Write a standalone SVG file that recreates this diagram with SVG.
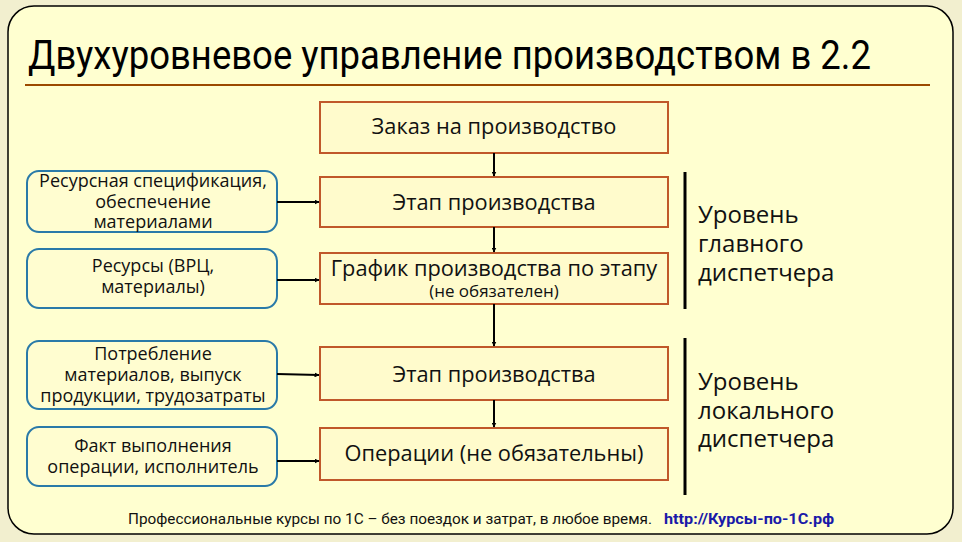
<svg xmlns="http://www.w3.org/2000/svg" width="962" height="542" viewBox="0 0 962 542">
<defs>
<marker id="ah" viewBox="0 0 10 10" refX="9" refY="5" markerWidth="5" markerHeight="5" orient="auto" markerUnits="userSpaceOnUse"><path d="M0,0 L10,5 L0,10 z" fill="#000"/></marker>
</defs>
<style>
.main rect{fill:#fffbcc;stroke:#c0582a;stroke-width:2}
.side rect{fill:#fffdd0;stroke:#2a7aa8;stroke-width:2}
.t{font-family:"Open Sans","Noto Sans","DejaVu Sans",sans-serif;fill:#111;text-anchor:middle}
.mt{font-size:21.8px}
.st{font-size:18px}
.lvl{font-family:"Open Sans","Noto Sans",sans-serif;font-size:24px;fill:#111}
.conn line{stroke:#000;stroke-width:2;marker-end:url(#ah)}
.bar{stroke:#000;stroke-width:3}
</style>
<rect x="0" y="0" width="962" height="542" fill="#f2efcf"/>
<rect x="8" y="6" width="945" height="528" rx="26" ry="26" fill="#ffffd0" stroke="#000" stroke-width="1.5"/>
<g id="title">
<text x="28" y="69" font-family="Roboto,'Liberation Sans',sans-serif" font-size="41" textLength="843" lengthAdjust="spacingAndGlyphs" fill="#000">Двухуровневое управление производством в 2.2</text>
<line x1="25" y1="85" x2="930" y2="85" stroke="#9c4a00" stroke-width="2"/>
</g>
<g id="order" class="main"><rect x="320" y="102" width="348" height="51"/><text class="t mt" x="494" y="134">Заказ на производство</text></g>
<g id="stage1" class="main"><rect x="320" y="177" width="348" height="50"/><text class="t mt" x="494" y="210">Этап производства</text></g>
<g id="schedule" class="main"><rect x="320" y="253" width="348" height="51"/><text class="t mt" x="494" y="276">График производства по этапу</text><text class="t" font-size="17" x="494" y="297">(не обязателен)</text></g>
<g id="stage2" class="main"><rect x="320" y="347" width="348" height="53"/><text class="t mt" x="494" y="382">Этап производства</text></g>
<g id="operations" class="main"><rect x="320" y="428" width="348" height="52"/><text class="t mt" x="494" y="461">Операции (не обязательны)</text></g>
<g id="spec" class="side"><rect x="27" y="171" width="250" height="61" rx="12"/><text class="t st" x="153" y="187">Ресурсная спецификация,</text><text class="t st" x="153" y="208">обеспечение</text><text class="t st" x="153" y="228">материалами</text></g>
<g id="resources" class="side"><rect x="27" y="249" width="250" height="59" rx="12"/><text class="t st" x="153" y="272">Ресурсы (ВРЦ,</text><text class="t st" x="153" y="293">материалы)</text></g>
<g id="consumption" class="side"><rect x="27" y="341" width="250" height="68" rx="12"/><text class="t st" x="153" y="360">Потребление</text><text class="t st" x="153" y="381">материалов, выпуск</text><text class="t st" x="153" y="402">продукции, трудозатраты</text></g>
<g id="fact" class="side"><rect x="27" y="427" width="250" height="59" rx="12"/><text class="t st" x="153" y="452">Факт выполнения</text><text class="t st" x="153" y="473">операции, исполнитель</text></g>
<g id="connectors" class="conn">
<line x1="494" y1="153" x2="494" y2="176"/>
<line x1="494" y1="227" x2="494" y2="252"/>
<line x1="494" y1="304" x2="494" y2="346"/>
<line x1="494" y1="400" x2="494" y2="427"/>
<line x1="277" y1="202" x2="319" y2="202"/>
<line x1="277" y1="280" x2="319" y2="280"/>
<line x1="277" y1="374" x2="319" y2="375"/>
<line x1="277" y1="461" x2="319" y2="461"/>
</g>
<g id="level-main"><line class="bar" x1="685" y1="172" x2="685" y2="309"/><text class="lvl" x="698" y="223">Уровень</text><text class="lvl" x="698" y="252">главного</text><text class="lvl" x="698" y="281">диспетчера</text></g>
<g id="level-local"><line class="bar" x1="685" y1="338" x2="685" y2="495"/><text class="lvl" x="698" y="390">Уровень</text><text class="lvl" x="698" y="419">локального</text><text class="lvl" x="698" y="447">диспетчера</text></g>
<g id="footer">
<text x="128" y="524" font-family="Roboto,'Liberation Sans',sans-serif" font-size="14" textLength="524" lengthAdjust="spacingAndGlyphs" fill="#111">Профессиональные курсы по 1С – без поездок и затрат, в любое время.</text>
<text x="664" y="524" font-family="Roboto,'Liberation Sans',sans-serif" font-size="14" font-weight="bold" textLength="170" lengthAdjust="spacingAndGlyphs" fill="#1a1aa8">http://Курсы-по-1С.рф</text>
</g>
</svg>
